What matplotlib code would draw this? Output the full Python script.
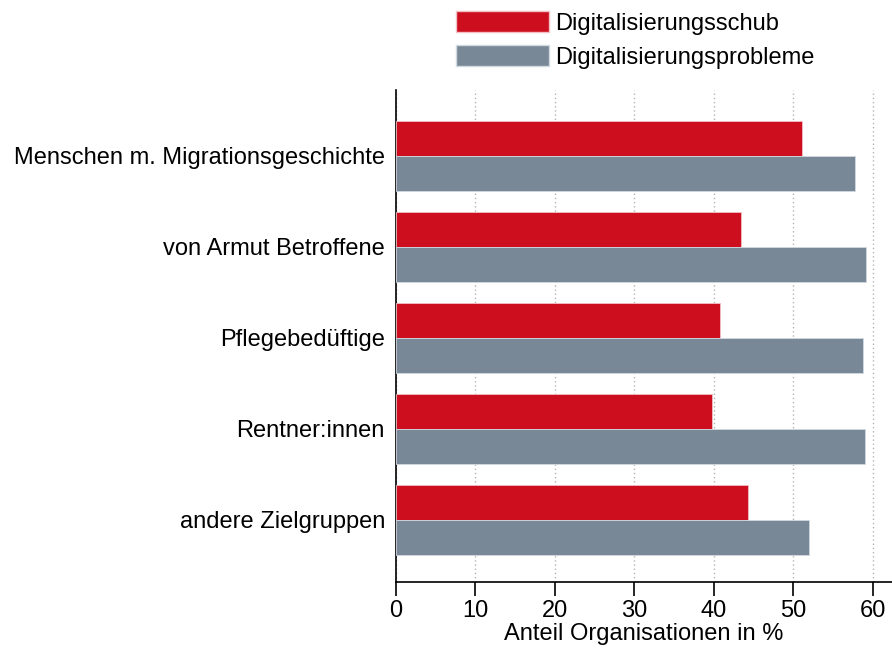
import numpy as np
import matplotlib.pyplot as plt
from matplotlib.patches import Patch

plt.rcParams['font.family'] = ['Liberation Sans', 'DejaVu Sans']

categories = ['Menschen m. Migrationsgeschichte', 'von Armut Betroffene',
              'Pflegebedüftige', 'Rentner:innen', 'andere Zielgruppen']
schub = [51.1, 43.4, 40.7, 39.7, 44.3]
probleme = [57.7, 59.1, 58.7, 59.0, 51.9]
series_names = ['Digitalisierungsschub', 'Digitalisierungsprobleme']

red = '#cc0e1e'
grey = '#788896'
fs = 17

fig = plt.figure(figsize=(8.92, 6.5), dpi=100)
ax = fig.add_axes([396/892, 1 - 582/650, (892-396)/892, (582-90)/650])

y = np.arange(len(categories))
h = 0.385
ax.barh(y - h/2, schub, height=h, color=red, edgecolor='#f0c0c4', linewidth=0.6, zorder=3)
ax.barh(y + h/2, probleme, height=h, color=grey, edgecolor='#d0d8e0', linewidth=0.6, zorder=3)

ax.set_ylim(4 + 62.3/91, -65.7/91)
ax.set_xlim(0, 62.4)
ax.set_yticks(y)
ax.set_yticklabels(categories, fontsize=fs)
ax.set_xticks(np.arange(0, 61, 10))
ax.tick_params(axis='x', labelsize=fs, length=10, width=1.2, pad=3)
ax.tick_params(axis='y', length=0, pad=8)
ax.set_xlabel('Anteil Organisationen in %', fontsize=fs, labelpad=1)

for s in ['top', 'right']:
    ax.spines[s].set_visible(False)
for s in ['left', 'bottom']:
    ax.spines[s].set_linewidth(1.2)

ax.xaxis.grid(True, linestyle=(0, (1, 2)), color='#b4b4b4', linewidth=1.0, zorder=0)
ax.set_axisbelow(True)

handles = [Patch(facecolor=red, edgecolor='#f0c0c4'), Patch(facecolor=grey, edgecolor='#d0d8e0')]
fig.legend(handles, series_names, loc='upper left', bbox_to_anchor=(456/892, 1 - 11/650),
           frameon=False, fontsize=fs, borderpad=0, handlelength=3.94, handleheight=1.0,
           labelspacing=0.45, handletextpad=0.25, borderaxespad=0)

fig.savefig('out.png', dpi=100)
